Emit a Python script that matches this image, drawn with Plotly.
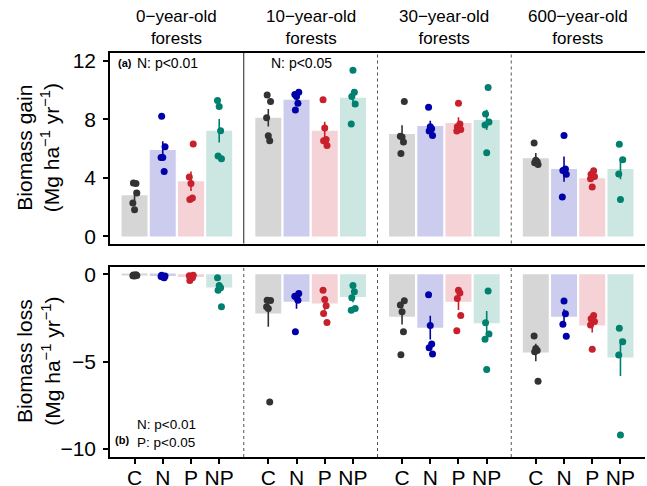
import plotly.graph_objects as go
from plotly.subplots import make_subplots

CATS = ["C", "N", "P", "NP"]
AGES = ["0\u2212year-old<br>forests", "10\u2212year-old<br>forests",
        "30\u2212year-old<br>forests", "600\u2212year-old<br>forests"]

# Biomass gain: bar means, standard errors and plot-level points (per age, per treatment)
gain_mean = [[2.81, 5.90, 3.77, 7.22],
             [8.11, 9.33, 7.22, 9.47],
             [7.00, 7.54, 7.75, 7.96],
             [5.35, 4.60, 3.98, 4.60]]
gain_se = [[0.35, 0.60, 0.66, 0.80],
           [0.60, 0.25, 0.62, 0.60],
           [0.60, 0.37, 0.40, 0.69],
           [0.35, 0.86, 0.20, 0.70]]
gain_pts = [
    [[3.61, 3.65, 2.97, 2.29, 1.83], [8.21, 6.13, 5.40, 5.40, 4.43],
     [6.31, 4.07, 3.61, 2.63, 2.52], [9.28, 8.87, 7.22, 5.49, 5.30]],
    [[9.67, 9.21, 8.11, 6.88, 6.54], [9.85, 9.70, 9.56, 9.10, 8.64],
     [9.33, 7.41, 6.63, 6.54, 6.22], [11.36, 9.85, 9.56, 9.05, 7.68]],
    [[9.21, 6.85, 6.80, 6.45, 5.67], [8.83, 7.50, 7.35, 7.20, 6.90],
     [9.10, 7.68, 7.50, 7.30, 7.20], [10.17, 8.37, 7.82, 7.61, 5.71]],
    [[6.38, 5.20, 5.10, 5.03, 4.92], [6.90, 4.60, 4.50, 4.25, 2.70],
     [4.48, 4.25, 4.10, 3.95, 3.38], [6.29, 5.24, 4.27, 2.52]],
]

# Biomass loss
loss_mean = [[-0.05, -0.10, -0.15, -0.75],
             [-2.24, -1.57, -1.67, -1.29],
             [-2.42, -3.05, -1.57, -2.80],
             [-4.47, -2.42, -2.93, -4.75]]
loss_se = [[0.03, 0.04, 0.08, 0.30],
           [0.76, 0.40, 0.38, 0.30],
           [0.45, 0.68, 0.47, 0.70],
           [0.50, 0.43, 0.40, 1.06]]
loss_pts = [
    [[-0.02, -0.04, -0.06, -0.08, -0.10], [-0.05, -0.10, -0.12, -0.15, -0.20],
     [-0.05, -0.08, -0.12, -0.20, -0.35], [-0.19, -0.63, -0.76, -0.91, -1.86]],
    [[-1.48, -1.50, -1.86, -1.95, -7.31], [-1.10, -1.25, -1.33, -1.48, -3.28],
     [-0.91, -1.44, -1.80, -2.24, -2.75], [-0.63, -1.00, -1.34, -1.95, -2.05]],
    [[-1.51, -1.76, -2.14, -3.28, -4.60], [-1.17, -2.93, -3.98, -4.20, -4.56],
     [-0.91, -1.06, -1.38, -2.35, -3.22], [-0.95, -2.77, -3.41, -3.71, -5.45]],
    [[-3.52, -4.24, -4.36, -4.43, -6.12], [-1.53, -2.25, -2.86, -3.54],
     [-2.35, -2.54, -2.70, -2.90, -4.28], [-3.09, -3.86, -4.62, -9.19]],
]

# styling
PT_COLORS = ["#333333", "#0000aa", "#c8202d", "#00806e"]
BAR_COLORS = ["#d6d6d6", "#ccccee", "#f4d2d5", "#cce6e2"]
JITTER = [0.05, -0.04, 0.08, -0.06, 0.0]
FONT = "Liberation Sans, Arial, sans-serif"

fig = make_subplots(rows=2, cols=4, horizontal_spacing=0, vertical_spacing=23 / 404)

for r, (means, ses, pts) in enumerate([(gain_mean, gain_se, gain_pts),
                                        (loss_mean, loss_se, loss_pts)], start=1):
    for c in range(4):
        for k in range(4):
            x = k + 1
            fig.add_trace(go.Bar(
                x=[x], y=[means[c][k]], width=0.92, opacity=1,
                marker=dict(color=BAR_COLORS[k], line=dict(width=0)),
                error_y=dict(type="data", array=[ses[c][k]], color=PT_COLORS[k],
                             thickness=1.6, width=0),
                showlegend=False, hoverinfo="skip"), row=r, col=c + 1)
            vals = pts[c][k]
            xs = [x + JITTER[(i + k + c) % len(JITTER)] for i in range(len(vals))]
            fig.add_trace(go.Scatter(
                x=xs, y=vals, mode="markers",
                marker=dict(color=PT_COLORS[k], size=7, line=dict(width=0)),
                showlegend=False, hoverinfo="skip"), row=r, col=c + 1)

for r in (1, 2):
    for c in range(1, 5):
        fig.update_xaxes(range=[0.13, 4.87], tickvals=[1, 2, 3, 4], ticktext=CATS,
                         showgrid=False, zeroline=False, showline=True,
                         linecolor="black", linewidth=2, mirror=True, automargin=False,
                         ticks="outside" if r == 2 else "", ticklen=5, tickwidth=1.5,
                         tickcolor="black", showticklabels=(r == 2),
                         ticklabelstandoff=-4,
                         tickfont=dict(size=21, color="black", family=FONT),
                         row=r, col=c)
        yargs = dict(showgrid=False, zeroline=False, automargin=False)
        if r == 1:
            yargs.update(range=[-0.48, 12.53], tickvals=[0, 4, 8, 12])
        else:
            yargs.update(range=[-10.45, 0.45], tickvals=[0, -5, -10])
        if c == 1:
            yargs.update(showline=True, linecolor="black", linewidth=1.5,
                         ticks="outside", ticklen=5, tickwidth=1.5, tickcolor="black",
                         ticklabelstandoff=3,
                         tickfont=dict(size=21, color="black", family=FONT))
        else:
            yargs.update(showline=False, showticklabels=False, ticks="")
        fig.update_yaxes(row=r, col=c, **yargs)

# facet separators
for r in (1, 2):
    for c in (2, 3, 4):
        idx = (r - 1) * 4 + c
        solid = (r == 1 and c == 2)
        fig.add_shape(type="line", xref=f"x{idx} domain", yref=f"y{idx} domain",
                      x0=0, x1=0, y0=0, y1=1,
                      line=dict(color="#222222" if solid else "#555555", width=1,
                                dash="solid" if solid else "dot"))

ann = []
for c in range(4):
    xr = "x domain" if c == 0 else f"x{c + 1} domain"
    ann.append(dict(text=AGES[c], xref=xr, x=0.5, yref="paper", y=1, yanchor="bottom",
                    xanchor="center", yshift=3, showarrow=False,
                    font=dict(size=17, color="black", family=FONT)))

ann += [
    dict(text="<b>(a)</b>", xref="x domain", yref="y domain", x=0.045, y=0.948,
         xanchor="left", yanchor="middle", showarrow=False,
         font=dict(size=11, color="black", family=FONT)),
    dict(text="N: p<0.01", xref="x domain", yref="y domain", x=0.19, y=0.948,
         xanchor="left", yanchor="middle", showarrow=False,
         font=dict(size=14, color="black", family=FONT)),
    dict(text="N: p<0.05", xref="x2 domain", yref="y2 domain", x=0.435, y=0.948,
         xanchor="center", yanchor="middle", showarrow=False,
         font=dict(size=14, color="black", family=FONT)),
    dict(text="N: p<0.01<br>P: p<0.05", xref="x5 domain", yref="y5 domain",
         x=0.187, y=0.0, yshift=5, xanchor="left", yanchor="bottom", align="left",
         showarrow=False, font=dict(size=13.5, color="black", family=FONT)),
    dict(text="<b>(b)</b>", xref="x5 domain", yref="y5 domain", x=0.022, y=0.088,
         xanchor="left", yanchor="middle", showarrow=False,
         font=dict(size=11, color="black", family=FONT)),
    dict(text="Biomass gain<br>(Mg ha<sup>\u22121</sup> yr<sup>\u22121</sup>)",
         xref="paper", x=0, xshift=-72, yref="y domain", y=0.5, textangle=-90,
         xanchor="center", yanchor="middle", showarrow=False,
         font=dict(size=21, color="black", family=FONT)),
    dict(text="Biomass loss<br>(Mg ha<sup>\u22121</sup> yr<sup>\u22121</sup>)",
         xref="paper", x=0, xshift=-72, yref="y5 domain", y=0.5, textangle=-90,
         xanchor="center", yanchor="middle", showarrow=False,
         font=dict(size=21, color="black", family=FONT)),
]

fig.update_layout(
    width=647, height=486, barmode="overlay",
    margin=dict(l=110, r=2, t=53, b=29, autoexpand=False),
    paper_bgcolor="white", plot_bgcolor="white",
    font=dict(family=FONT, color="black"),
    annotations=ann, showlegend=False,
)

fig.write_html("out.html", config={"displayModeBar": False},
               post_script="document.body.style.margin='0';document.body.style.padding='0';")
